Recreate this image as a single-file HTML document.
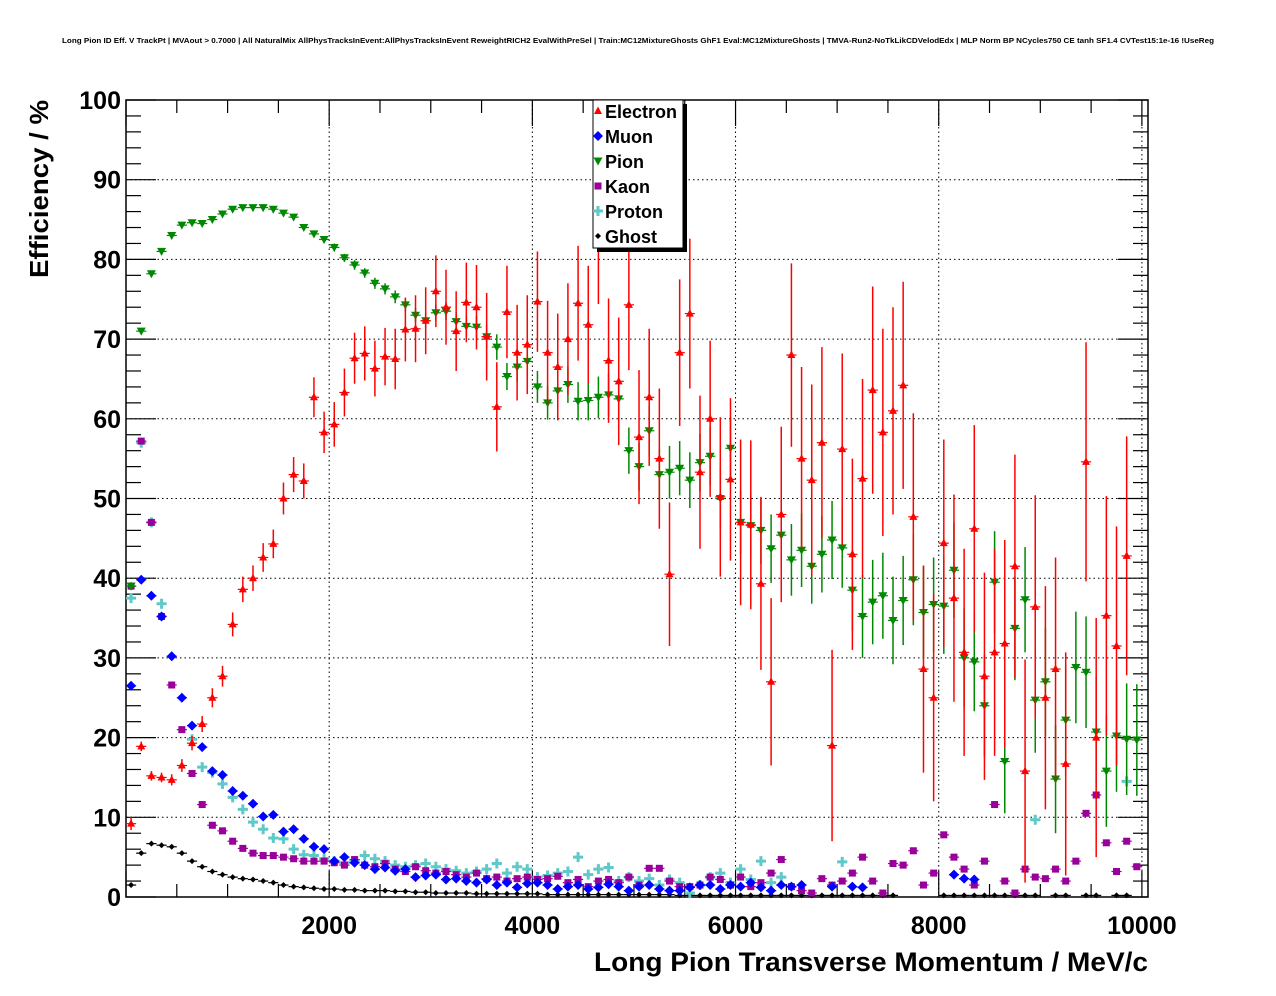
<!DOCTYPE html>
<html><head><meta charset="utf-8"><style>
html,body{margin:0;padding:0;background:#fff;}
svg{display:block;font-family:"Liberation Sans",sans-serif;}
</style></head><body>
<svg id="chart" width="1276" height="996" viewBox="0 0 1276 996">
<text x="638" y="43" text-anchor="middle" font-size="7.5" font-weight="bold" textLength="1152" lengthAdjust="spacingAndGlyphs">Long Pion ID Eff. V TrackPt | MVAout &gt; 0.7000 | All NaturalMix AllPhysTracksInEvent:AllPhysTracksInEvent ReweightRICH2 EvalWithPreSel | Train:MC12MixtureGhosts GhF1 Eval:MC12MixtureGhosts | TMVA-Run2-NoTkLikCDVelodEdx | MLP Norm BP NCycles750 CE tanh SF1.4 CVTest15:1e-16 !UseReg</text>
<g id="grid"></g>
<g id="axes"></g>
<g id="marks"></g>
<text x="48" y="189" transform="rotate(-90 48 189)" text-anchor="middle" font-size="26" font-weight="bold" textLength="178" lengthAdjust="spacingAndGlyphs">Efficiency / %</text>
<text x="594" y="971" font-size="27" font-weight="bold" textLength="554" lengthAdjust="spacingAndGlyphs">Long Pion Transverse Momentum / MeV/c</text>
<g id="legend"></g>
</svg>
<script>
const NS="http://www.w3.org/2000/svg";
const yTicks=[0,10,20,30,40,50,60,70,80,90,100];
const xTicks=[2000,4000,6000,8000,10000];
const seriesNames=["Electron","Muon","Pion","Kaon","Proton","Ghost"];
const N=null;
const electron=[9.2,18.9,15.2,15,14.7,16.5,19.3,21.7,25,27.7,
34.2,38.6,40,42.6,44.3,50,53,52.2,62.7,58.3,
59.3,63.3,67.6,68.2,66.3,67.8,67.5,71.2,71.3,72.3,
76,74,71,74.6,74,70.3,61.5,73.4,68.3,69.3,
74.7,68.3,66.5,70,74.5,71.8,82,67.3,64.7,74.3,
57.7,62.7,55,40.5,68.3,73.2,53.3,60,50.2,52.4,
47,46.7,39.3,27,48,68,55,52.3,57,19,
56.2,43,52.5,63.6,58.3,61,64.2,47.7,28.6,25,
44.4,37.5,30.7,46.2,27.7,30.7,31.8,41.5,15.8,36.4,
25,28.6,16.7,N,54.6,20,35.3,31.5,42.8,N];
const electronErr=[0.8,0.6,0.6,0.6,0.7,0.8,0.9,1,1.2,1.3,
1.5,1.6,1.6,1.8,1.8,2,2.2,2.2,2.5,2.6,
2.8,3,3.2,3.4,3.5,3.6,3.8,4,4.2,4.2,
4.5,4.7,5,5,5.3,5.5,5.6,5.8,6,6.2,
6.3,6.5,6.7,7,7.2,7.4,7.6,7.8,8,8.2,
8.4,8.6,8.8,9,9.2,9.4,9.6,9.8,10,10.2,
10.4,10.6,10.8,10.5,11,11.5,11.5,12,12,12,
12,12,12.5,13,13,13,13,13,13,13,
13,13,13,13,13,13,13,14,14,14,
14,14,14,0,15,15,15,15,15,0];
const pion=[39,71,78.2,81,83,84.3,84.6,84.5,85,85.7,
86.3,86.5,86.5,86.5,86.3,85.8,85.3,84,83.2,82.5,
81.5,80.2,79.3,78.3,77,76.3,75.3,74.3,73,72.3,
73.3,73.5,72.2,71.6,71.5,70.3,69,65.3,66.5,67.2,
64,62,63.5,64.3,62.2,62.3,62.7,63,62.5,56,
54,58.5,53,53.3,53.8,52.3,54.5,55.3,50,56.3,
47,46.6,46,43.7,45.4,42.3,43.5,41.5,43,44.8,
43.8,38.5,35.2,37,37.8,34.7,37.2,39.8,35.7,36.7,
36.5,41,30,29.5,24,39.5,17,33.7,37.3,24.7,
27,14.8,22.2,28.8,28.2,20.7,15.8,20.2,19.8,19.7];
const pionErr=[0.5,0.3,0.3,0.3,0.3,0.3,0.3,0.3,0.3,0.3,
0.3,0.3,0.3,0.3,0.3,0.3,0.3,0.4,0.4,0.4,
0.5,0.5,0.6,0.6,0.7,0.7,0.8,0.8,0.9,1,
1,1.1,1.2,1.3,1.4,1.5,1.6,1.7,1.8,1.9,
2,2.1,2.2,2.3,2.4,2.5,2.6,2.7,2.8,2.9,
3,3.1,3.2,3.3,3.4,3.5,3.6,3.7,3.8,3.9,
4,4.1,4.2,4.3,4.4,4.5,4.6,4.7,4.8,4.9,
5,5.1,5.2,5.3,5.4,5.5,5.6,5.7,5.8,5.9,
6,6,6.2,6.2,6.4,6.4,6.5,6.5,6.6,6.6,
6.8,6.8,7,7,7,7,7,7,7,7];
const muon=[26.5,39.8,37.8,35.2,30.2,25,21.5,18.8,15.8,15.3,
13.3,12.7,11.7,10.1,10.3,8.2,8.5,7.3,6.3,6,
4.5,5,4.3,4,3.5,3.7,3.3,3.5,2.5,2.7,
2.8,2.2,2.3,2,1.8,2.2,1.5,1.8,1.2,1.7,
1.8,1.5,1,1.3,1.5,1,1.2,1.6,1.3,0.8,
1.3,1.5,1,0.8,0.8,1.2,1.5,1.5,1,1.5,
1.3,1.8,1.2,0.8,1.5,1.3,1.5,N,N,1.3,
N,1.3,1.2,N,N,N,N,N,N,N,
N,2.8,2.3,2.2,N,N,N,N,N,N,
N,N,N,N,N,N,N,N,N,N];
const kaon=[39,57.2,47,35.2,26.6,21,15.5,11.6,9,8.3,
7,6.1,5.5,5.2,5.2,5,4.8,4.5,4.5,4.5,
4.3,4,4.7,4,3.8,4.2,3.5,3.2,3.8,3.3,
3,3.2,2.8,2.5,3,2.3,2.5,2,2.3,2.5,
2.2,2.3,2.6,1.8,2.2,1.3,2,2.2,1.8,2.5,
1.5,3.6,3.6,2,1.3,1.3,1.5,2.5,2.2,1.5,
2.5,1.3,1.8,3,4.7,1.3,0.8,0.5,2.3,1.5,
2,3,5,2,0.5,4.2,4,5.8,1.5,3,
7.8,5,3.5,1.5,4.5,11.6,2,0.5,3.5,2.5,
2.3,3.5,2,4.5,10.5,12.8,6.8,3.2,7,3.8];
const proton=[37.5,57,47,36.8,N,N,19.8,16.3,15.6,14.2,
12.5,11,9.4,8.5,7.4,7.3,6,5.3,5.2,4.8,
4.5,4.3,4.5,5.2,4.8,4.5,4,3.8,4,4.2,
3.8,3.5,3.3,3,3.2,3.5,4.2,3,3.8,3.5,
2.5,2.7,3,3.2,5,2.8,3.5,3.7,2,2.5,
2,2.3,1.5,2.2,1.8,0.5,1.5,2.5,3,1.8,
3.5,2.2,4.5,1.8,2.5,N,N,N,N,N,
4.4,N,N,N,N,N,N,N,N,N,
N,N,N,N,N,N,N,N,N,9.7,
N,N,N,N,N,N,N,N,14.5,N];
const ghost=[1.5,5.5,6.7,6.5,6.3,5.5,4.5,3.8,3.2,2.8,
2.5,2.3,2.2,2,1.8,1.5,1.3,1.2,1.1,1,
1,0.9,0.9,0.8,0.8,0.8,0.7,0.7,0.6,0.6,
0.5,0.5,0.5,0.5,0.4,0.4,0.4,0.4,0.4,0.4,
0.4,0.3,0.3,0.3,0.3,0.3,0.3,0.3,0.3,0.3,
0.3,0.3,0.3,0.3,0.2,0.2,0.2,0.2,0.2,0.2,
0.2,0.2,0.2,0.2,0.2,0.2,0.2,0.2,0.2,0.2,
0.2,0.2,0.2,0.2,0.2,0.2,N,N,N,N,
0.2,0.2,0.2,0.2,0.2,0.2,0.2,0.2,0.2,0.2,
N,0.2,0.2,N,0.2,0.2,N,0.2,0.2,N];
const bins=[];for(let i=0;i<100;i++)bins.push(50+100*i);

const X0=126,X1=1148,Y0=897,Y1=100,XMAX=10060;
const sx=v=>X0+(v/XMAX)*(X1-X0);
const sy=v=>Y0-(v/100)*(Y0-Y1);
function mk(tag,attrs,parent){const e=document.createElementNS(NS,tag);for(const k in attrs)e.setAttribute(k,attrs[k]);parent.appendChild(e);return e;}
const grid=document.getElementById('grid'),axes=document.getElementById('axes'),marks=document.getElementById('marks'),legend=document.getElementById('legend');
yTicks.forEach(t=>{if(t>0&&t<100){const l=mk('line',{x1:X0,x2:X1,y1:sy(t),y2:sy(t),stroke:'#000','stroke-width':1,'stroke-dasharray':'1.5,3'},grid);

}});
xTicks.forEach(t=>{if(t<XMAX){const l=mk('line',{x1:sx(t),x2:sx(t),y1:Y1,y2:Y0,stroke:'#000','stroke-width':1,'stroke-dasharray':'1.5,3'},grid);

}});
const fr=mk('rect',{x:X0,y:Y1,width:X1-X0,height:Y0-Y1,fill:'none',stroke:'#000','stroke-width':1.5},axes);


for(let v=0;v<=100;v+=2){const maj=v%10===0;const len=maj?30:15;
mk('line',{x1:X0,x2:X0+len,y1:sy(v),y2:sy(v),stroke:'#000','stroke-width':1.2},axes);
mk('line',{x1:X1,x2:X1-len,y1:sy(v),y2:sy(v),stroke:'#000','stroke-width':1.2},axes);}
yTicks.forEach(t=>{const tx=mk('text',{x:121,y:sy(t)+9,'text-anchor':'end','font-size':25,'font-weight':'bold'},axes);tx.textContent=t;

});
for(let v=0;v<=XMAX;v+=500){const maj=v%2000===0;const len=maj?26:13;
mk('line',{x1:sx(v),x2:sx(v),y1:Y0,y2:Y0-len,stroke:'#000','stroke-width':1.2},axes);
mk('line',{x1:sx(v),x2:sx(v),y1:Y1,y2:Y1+len,stroke:'#000','stroke-width':1.2},axes);}
xTicks.forEach(t=>{const tx=mk('text',{x:sx(t),y:934,'text-anchor':'middle','font-size':25,'font-weight':'bold'},axes);tx.textContent=t;

});
function marker(kind,cx,cy,col,parent){
 if(kind==='tu')return mk('polygon',{points:`${cx},${cy-4.5} ${cx-4},${cy+3} ${cx+4},${cy+3}`,fill:col},parent);
 if(kind==='td')return mk('polygon',{points:`${cx},${cy+4.5} ${cx-4.5},${cy-3.5} ${cx+4.5},${cy-3.5}`,fill:col},parent);
 if(kind==='di')return mk('polygon',{points:`${cx},${cy-5} ${cx+5},${cy} ${cx},${cy+5} ${cx-5},${cy}`,fill:col},parent);
 if(kind==='sq')return mk('rect',{x:cx-3.5,y:cy-3.5,width:7,height:7,fill:col},parent);
 if(kind==='cr')return mk('path',{d:`M${cx-5},${cy}H${cx+5}M${cx},${cy-5}V${cy+5}`,stroke:col,'stroke-width':3},parent);
 return mk('polygon',{points:`${cx},${cy-3} ${cx+3},${cy} ${cx},${cy+3} ${cx-3},${cy}`,fill:col},parent);
}
const defs=[
 {name:'electron',data:electron,err:electronErr,col:'#ff0000',kind:'tu'},
 {name:'muon',data:muon,err:null,col:'#0000ff',kind:'di'},
 {name:'pion',data:pion,err:pionErr,col:'#008800',kind:'td'},
 {name:'kaon',data:kaon,err:null,col:'#990099',kind:'sq'},
 {name:'proton',data:proton,err:null,col:'#5fc8c8',kind:'cr'},
 {name:'ghost',data:ghost,err:null,col:'#000000',kind:'ci'}];
const drawOrder=[5,4,3,1,2,0];
drawOrder.forEach(si=>{const d=defs[si];const g=mk('g',{},marks);
 
 
 d.data.forEach((v,i)=>{if(v===null)return;const cx=sx(bins[i]),cy=sy(v);
  mk('line',{x1:sx(bins[i]-50),x2:sx(bins[i]+50),y1:cy,y2:cy,stroke:d.col,'stroke-width':1.2},g);
  if(d.err&&d.err[i]>0){mk('line',{x1:cx,x2:cx,y1:sy(Math.min(100,v+d.err[i])),y2:sy(Math.max(0,v-d.err[i])),stroke:d.col,'stroke-width':1.5},g);}
  const m=marker(d.kind,cx,cy,d.col,g);
  
  
 });});
mk('rect',{x:597,y:104,width:90,height:148,fill:'#000'},legend);
const lb=mk('rect',{x:593,y:100,width:90,height:148,fill:'#fff',stroke:'#000','stroke-width':1},legend);


seriesNames.forEach((n,i)=>{const y=111+i*25;const d=defs[i];
 const g=mk('g',{},legend);
 
 
 marker(d.kind,598,y,d.col,g);
 const t=mk('text',{x:605,y:y+7,'font-size':18,'font-weight':'bold'},g);t.textContent=n;});
</script>
</body></html>
